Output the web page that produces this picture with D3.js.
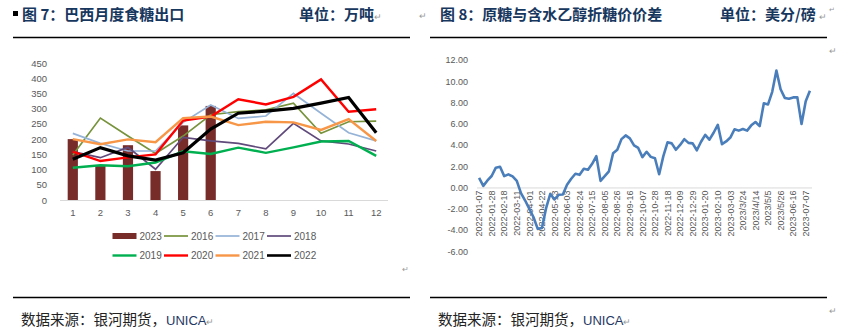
<!DOCTYPE html>
<html><head><meta charset="utf-8">
<script src="https://cdn.jsdelivr.net/npm/d3@7"></script>
<style>
html,body{margin:0;padding:0;background:#fff;}
svg{display:block;}
</style></head>
<body>
<svg id="c" width="853" height="331"></svg>
<script>
// ---------- Left chart data (万吨) ----------
const months = [1,2,3,4,5,6,7,8,9,10,11,12];
const leftYTicks = [0,50,100,150,200,250,300,350,400,450];
const exports2023 = [200,115,180,95,245,309];
const exports2016 = [148,269,210,153,210,280,290,296,318,219,257,259];
const exports2017 = [219,186,161,161,255,312,268,276,350,285,221,194];
const exports2018 = [159,139,173,101,206,194,186,168,252,194,184,161];
const exports2019 = [106,114,111,123,160,151,172,155,173,192,194,145];
const exports2020 = [159,128,140,150,261,274,331,314,339,396,290,298];
const exports2021 = [200,183,199,190,269,274,246,257,255,230,266,194];
const exports2022 = [134,172,145,131,155,233,285,292,301,318,337,221];
const lineSeriesNames = ["2016","2017","2018","2019","2020","2021","2022"];
const lineSeriesColors = ["#77933C","#95B3D7","#604A7B","#00B050","#FF0000","#F79646","#000000"];
const lineSeriesWidths = [1.7,1.7,1.7,2.4,2.4,2.4,3.2];

// ---------- Right chart data (美分/磅) ----------
const diffDates = [
"2022-01-07","2022-01-14","2022-01-21","2022-01-28","2022-02-04","2022-02-11","2022-02-18","2022-02-25",
"2022-03-04","2022-03-11","2022-03-18","2022-03-25","2022-04-01","2022-04-08","2022-04-15","2022-04-22",
"2022-04-29","2022-05-06","2022-05-13","2022-05-20","2022-05-27","2022-06-03","2022-06-10","2022-06-17",
"2022-06-24","2022-07-01","2022-07-08","2022-07-15","2022-07-22","2022-07-29","2022-08-05","2022-08-12",
"2022-08-19","2022-08-26","2022-09-02","2022-09-09","2022-09-16","2022-09-23","2022-09-30","2022-10-07",
"2022-10-14","2022-10-21","2022-10-28","2022-11-04","2022-11-11","2022-11-18","2022-11-25","2022-12-02",
"2022-12-09","2022-12-16","2022-12-23","2022-12-29","2023-01-06","2023-01-13","2023-01-20","2023-01-27",
"2023-02-03","2023-02-10","2023-02-17","2023-02-24","2023-03-03","2023-03-10","2023-03-17","2023/3/24",
"2023/3/31","2023/4/7","2023/4/14","2023/4/21","2023/4/28","2023/5/5","2023/5/12","2023/5/19",
"2023/5/26","2023-06-02","2023-06-09","2023-06-16","2023-06-23","2023-06-30","2023-07-07","2023-07-14"];
const diffValues = [
0.91,0.15,0.66,1.08,1.86,1.95,1.07,1.23,
1.04,0.62,-0.53,-1.23,-2.01,-2.80,-3.90,-3.82,
-1.95,-0.60,-1.13,-0.69,-0.66,0.25,0.82,1.29,
1.19,1.76,1.67,2.23,2.95,0.62,1.06,1.52,
3.22,3.55,4.55,4.90,4.62,3.96,3.72,2.86,
3.36,2.88,2.75,1.24,2.95,4.25,4.15,3.55,
4.00,4.55,4.20,4.15,3.50,4.30,4.95,4.50,
5.15,5.90,4.08,4.33,4.70,5.48,5.35,5.50,
5.35,5.85,6.16,5.77,7.93,7.82,9.00,11.00,
9.25,8.43,8.36,8.48,8.48,5.97,8.12,9.10];
const diffTickLabels = ["2022-01-07","2022-01-28","2022-02-18","2022-03-11","2022-04-01","2022-04-22",
"2022-05-13","2022-06-03","2022-06-24","2022-07-15","2022-08-05","2022-08-26","2022-09-16","2022-10-07",
"2022-10-28","2022-11-18","2022-12-09","2022-12-29","2023-01-20","2023-02-10","2023-03-03","2023/3/24",
"2023/4/14","2023/5/5","2023/5/26","2023-06-16","2023-07-07"];
const rightYTicks = [-6,-4,-2,0,2,4,6,8,10,12];

const svg = d3.select("#c");
const CJK = "'Noto Sans CJK SC','Noto Sans',sans-serif";
const LAT = "'Liberation Sans',Arial,sans-serif";
const titleColor = "#17375E";
const tickColor = "#595959";

// ---------- headers / frames ----------
function header(x0, lineX1, lineX2, title, unit, unitX){
  svg.append("text").attr("x",x0).attr("y",20).attr("font-family",CJK).attr("font-weight",700)
    .attr("font-size",15).attr("fill",titleColor).text(title);
  svg.append("text").attr("x",unitX).attr("y",20).attr("font-family",CJK).attr("font-weight",700)
    .attr("font-size",15).attr("fill",titleColor).text(unit);
  svg.append("line").attr("x1",lineX1).attr("x2",lineX2).attr("y1",37.5).attr("y2",37.5)
    .attr("stroke","#000").attr("stroke-width",1.3);
  svg.append("line").attr("x1",lineX1).attr("x2",lineX2).attr("y1",297.5).attr("y2",297.5)
    .attr("stroke","#000").attr("stroke-width",1.3);
}
svg.append("rect").attr("x",13).attr("y",11).attr("width",5).attr("height",5).attr("fill","#000");
header(22, 13, 410, "图 7：巴西月度食糖出口", "单位：万吨", 299);
header(440, 430, 827, "图 8：原糖与含水乙醇折糖价价差", "单位：美分/磅", 720);

function retMark(x,y,size){
  svg.append("text").attr("x",x).attr("y",y).attr("font-family",CJK).attr("font-size",size||9)
    .attr("fill","#999").text("↵");
}
retMark(374,20); retMark(419,19); retMark(819,20); retMark(829,12,7); retMark(829,54); retMark(402,272,8);

function source(x){
  const t = svg.append("text").attr("x",x).attr("y",325).attr("font-size",14.5);
  t.append("tspan").attr("font-family",CJK).attr("fill","#222").text("数据来源：银河期货，");
  t.append("tspan").attr("font-family",LAT).attr("font-size",13).attr("fill","#1F3864").text("UNICA");
  t.append("tspan").attr("font-family",CJK).attr("font-size",9).attr("fill","#999").text("↵");
}
source(21); source(438);
retMark(829,314);

// ---------- Left chart ----------
const xL = d3.scaleBand().domain(months).range([59,390]).paddingInner(0.63).paddingOuter(0.315);
const yL = d3.scaleLinear().domain([0,450]).range([200,63]);

const gL = svg.append("g");
gL.append("g").attr("transform","translate(60,0)")
  .call(d3.axisLeft(yL).tickValues(leftYTicks).tickSize(0).tickPadding(13))
  .call(g=>g.select(".domain").remove())
  .call(g=>g.selectAll("text").attr("font-family",LAT).attr("font-size",9.5).attr("fill",tickColor));
gL.append("g").attr("transform","translate(0,200)")
  .call(d3.axisBottom(xL).tickSize(0).tickPadding(9))
  .call(g=>g.select(".domain").attr("stroke","#D9D9D9").attr("d","M60,0.5H388"))
  .call(g=>g.selectAll("text").attr("font-family",LAT).attr("font-size",9.5).attr("fill",tickColor));

gL.selectAll("rect.bar").data(exports2023).join("rect").attr("class","bar")
  .attr("x",(d,i)=>xL(months[i])).attr("width",xL.bandwidth())
  .attr("y",d=>yL(d)).attr("height",d=>yL(0)-yL(d)).attr("fill","#772C2A");

const lineData = [exports2016,exports2017,exports2018,exports2019,exports2020,exports2021,exports2022];
const lineL = d3.line().x((d,i)=>xL(months[i])+xL.bandwidth()/2).y(d=>yL(d));
lineData.forEach((arr,k)=>{
  gL.append("path").datum(arr).attr("d",lineL).attr("fill","none")
    .attr("stroke",lineSeriesColors[k]).attr("stroke-width",lineSeriesWidths[k])
    .attr("stroke-linejoin","miter");
});

// legend
const legendItems = [{name:"2023",color:"#772C2A",bar:true}].concat(
  lineSeriesNames.map((n,i)=>({name:n,color:lineSeriesColors[i],w:lineSeriesWidths[i]})));
const legX = [112.5,164,215.5,267];
const legY = [236,255.5];
legendItems.forEach((it,i)=>{
  const x = legX[i%4], y = legY[Math.floor(i/4)];
  if(it.bar){
    svg.append("rect").attr("x",x).attr("y",y-3).attr("width",24).attr("height",6).attr("fill",it.color);
  } else {
    svg.append("line").attr("x1",x).attr("x2",x+24).attr("y1",y).attr("y2",y)
      .attr("stroke",it.color).attr("stroke-width",Math.min(it.w,2.6));
  }
  svg.append("text").attr("x",x+27).attr("y",y).attr("dy","0.35em").attr("font-family",LAT)
    .attr("font-size",10).attr("fill",tickColor).text(it.name);
});

// ---------- Right chart ----------
const xR = d3.scalePoint().domain(diffDates).range([477,812]).padding(0.5);
const yR = d3.scaleLinear().domain([-6,12]).range([251.2,60]);

const gR = svg.append("g");
gR.append("g").attr("transform","translate(477,0)")
  .call(d3.axisLeft(yR).tickValues(rightYTicks).tickFormat(d=>d.toFixed(2)).tickSize(0).tickPadding(9))
  .call(g=>g.select(".domain").remove())
  .call(g=>g.selectAll("text").attr("font-family",LAT).attr("font-size",9).attr("fill",tickColor));
gR.append("line").attr("x1",477).attr("x2",812).attr("y1",yR(0)+0.5).attr("y2",yR(0)+0.5)
  .attr("stroke","#D9D9D9").attr("stroke-width",1);
gR.selectAll("text.xl").data(diffTickLabels).join("text").attr("class","xl")
  .attr("transform",d=>`translate(${xR(d)},${yR(0)+3}) rotate(-90)`)
  .attr("text-anchor","end").attr("dy","0.35em")
  .attr("font-family",LAT).attr("font-size",9).attr("fill",tickColor).text(d=>d);

const lineR = d3.line().x((d,i)=>xR(diffDates[i])).y(d=>yR(d));
gR.append("path").datum(diffValues).attr("d",lineR).attr("fill","none")
  .attr("stroke","#4A7EBB").attr("stroke-width",2.6).attr("stroke-linejoin","round");
</script>
</body></html>
